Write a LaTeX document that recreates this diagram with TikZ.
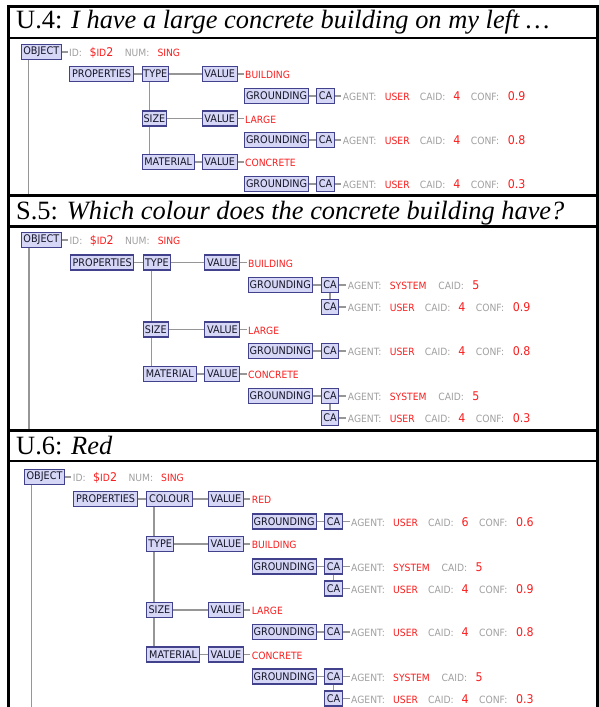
\documentclass[tikz,border=0pt]{standalone}
\usepackage{fontspec}
\newfontfamily\titlefont{Liberation Serif}
\newfontfamily\treefont[FakeStretch=0.92]{DejaVu Sans}

\definecolor{boxfill}{RGB}{214,214,246}
\definecolor{boxline}{RGB}{66,66,140}
\definecolor{boxtext}{RGB}{22,22,40}
\definecolor{wiregray}{RGB}{150,150,150}
\definecolor{labgray}{RGB}{160,160,160}
\definecolor{valred}{RGB}{250,30,30}

% attribute text pieces
\newcommand\lab[1]{\textcolor{labgray}{\fontsize{10}{12}\selectfont #1}}
\newcommand\rw[1]{\textcolor{valred}{\fontsize{10}{12}\selectfont #1}}
\newcommand\rn[1]{\textcolor{valred}{\fontsize{12}{12}\selectfont #1}}
\newcommand\fld[2]{\makebox[#1][l]{#2}}
\newcommand\idline{\fld{20.3pt}{\lab{ID:}}\fld{35.3pt}{\rn{\$}\rw{ID}\rn{2}}\fld{32.7pt}{\lab{NUM:}}\rw{SING}}
\newcommand\userca[2]{\fld{42pt}{\lab{AGENT:}}\fld{35pt}{\rw{USER}}\fld{33.5pt}{\lab{CAID:}}\fld{17.5pt}{\rn{#1}}\fld{37pt}{\lab{CONF:}}\rn{#2}}
\newcommand\sysca[1]{\fld{42pt}{\lab{AGENT:}}\fld{48.5pt}{\rw{SYSTEM}}\fld{34pt}{\lab{CAID:}}\rn{#1}}

\tikzset{
  box/.style={draw=boxline, fill=boxfill, line width=1.1pt, text=boxtext,
    font=\treefont\fontsize{10.5}{11}\selectfont, inner xsep=1pt, inner ysep=0pt,
    minimum height=15pt, anchor=west},
  wire/.style={draw=wiregray, line width=1.2pt},
  info/.style={anchor=base west, inner xsep=1.5pt, inner ysep=0pt, font=\treefont},
  frame/.style={draw=black, line width=2.6pt},
  title/.style={anchor=base west, inner sep=0pt, font=\titlefont\fontsize{26.4}{30}\selectfont}
}

\begin{document}
\begin{tikzpicture}[x=1pt, y=-1pt]
\useasboundingbox (0,0) rectangle (599,707);
\fill[white] (0,0) rectangle (599,707);

% ---------- table frame ----------
\draw[frame] (7,6.2) -- (599,6.2);
\draw[frame] (7,37.8) -- (599,37.8);
\draw[frame] (7,195.5) -- (599,195.5);
\draw[frame] (7,226.5) -- (599,226.5);
\draw[frame] (7,430.3) -- (599,430.3);
\draw[frame] (7,460.8) -- (599,460.8);
\draw[frame] (8.3,4.9) -- (8.3,708);
\draw[frame] (597.7,4.9) -- (597.7,708);

% ---------- titles ----------
\node[title] (tA) at (16,28.3) {U.4: \textit{I have a large concrete building on my left …}};
\node[title] (tB) at (16,219.3) {S.5: \textit{Which colour does the concrete building have?}};
\node[title] (tC) at (16,454) {U.6: \textit{Red}};

% ================= U.4 =================
\node[box, minimum width=40pt] (objA) at (20.7,52) {OBJECT};
\node[info] (idA) at (67.5,56.8) {\idline};
\coordinate (botA) at (28.3,194);
\node[box, minimum width=63.4pt] (propA) at (69.3,74) {PROPERTIES};
\node[box, minimum width=26.6pt] (typeA) at (141.5,74) {TYPE};
\node[box, minimum width=35pt] (vtA) at (201.7,74) {VALUE};
\node[info] (wtA) at (243.5,78.5) {\rw{BUILDING}};
\node[box, minimum width=63.4pt] (gtA) at (244.3,96) {GROUNDING};
\node[box, minimum width=18pt] (ctA) at (316,96) {CA};
\node[info] (atA) at (341.2,100.8) {\userca{4}{0.9}};
\node[box, minimum width=24.7pt] (sizeA) at (141.5,118.5) {SIZE};
\node[box, minimum width=35pt] (vsA) at (201.7,118.5) {VALUE};
\node[info] (wsA) at (243.5,123) {\rw{LARGE}};
\node[box, minimum width=63.4pt] (gsA) at (244.3,140) {GROUNDING};
\node[box, minimum width=18pt] (csA) at (316,140) {CA};
\node[info] (asA) at (341.2,144.8) {\userca{4}{0.8}};
\node[box, minimum width=52.3pt] (matA) at (141.5,162) {MATERIAL};
\node[box, minimum width=35pt] (vmA) at (201.7,162) {VALUE};
\node[info] (wmA) at (243.5,166.5) {\rw{CONCRETE}};
\node[box, minimum width=63.4pt] (gmA) at (244.3,184) {GROUNDING};
\node[box, minimum width=18pt] (cmA) at (316,184) {CA};
\node[info] (amA) at (341.2,188.8) {\userca{4}{0.3}};

\draw[wire] (objA.east) -- (objA.east -| idA.west);
\draw[wire] (objA.south -| botA) -- (botA);
\draw[wire] (propA.east) -- (typeA.west);
\draw[wire] (typeA.east) -- (vtA.west);
\draw[wire] (vtA.east) -- (vtA.east -| wtA.west);
\draw[wire] (gtA.east) -- (ctA.west);
\draw[wire] (ctA.east) -- (ctA.east -| atA.west);
\draw[wire] ([xshift=8pt]typeA.south west) -- ([xshift=8pt]sizeA.north west);
\draw[wire] (sizeA.east) -- (vsA.west);
\draw[wire] (vsA.east) -- (vsA.east -| wsA.west);
\draw[wire] (gsA.east) -- (csA.west);
\draw[wire] (csA.east) -- (csA.east -| asA.west);
\draw[wire] ([xshift=8pt]sizeA.south west) -- ([xshift=8pt]matA.north west);
\draw[wire] (matA.east) -- (vmA.west);
\draw[wire] (vmA.east) -- (vmA.east -| wmA.west);
\draw[wire] (gmA.east) -- (cmA.west);
\draw[wire] (cmA.east) -- (cmA.east -| amA.west);

% ================= S.5 =================
\node[box, minimum width=40.3pt] (objB) at (20.7,240) {OBJECT};
\node[info] (idB) at (67.8,244.8) {\idline};
\coordinate (botB) at (29,429);
\node[box, minimum width=63.3pt] (propB) at (70,262.5) {PROPERTIES};
\node[box, minimum width=27.3pt] (typeB) at (142.7,262.5) {TYPE};
\node[box, minimum width=35pt] (vtB) at (204.3,262.5) {VALUE};
\node[info] (wtB) at (246.5,267) {\rw{BUILDING}};
\node[box, minimum width=64pt] (gtB) at (247.7,285) {GROUNDING};
\node[box, minimum width=17.4pt] (ctsB) at (320.7,285) {CA};
\node[info] (atsB) at (346.2,289.8) {\sysca{5}};
\node[box, minimum width=17.4pt] (ctuB) at (320.7,307) {CA};
\node[info] (atuB) at (346.2,311.8) {\userca{4}{0.9}};
\node[box, minimum width=25pt] (sizeB) at (142.7,329.5) {SIZE};
\node[box, minimum width=35pt] (vsB) at (204.3,329.5) {VALUE};
\node[info] (wsB) at (246.5,334) {\rw{LARGE}};
\node[box, minimum width=64pt] (gsB) at (247.7,351) {GROUNDING};
\node[box, minimum width=17.4pt] (csB) at (320.7,351) {CA};
\node[info] (asB) at (346.2,355.8) {\userca{4}{0.8}};
\node[box, minimum width=53pt] (matB) at (142.7,374) {MATERIAL};
\node[box, minimum width=35pt] (vmB) at (204.3,374) {VALUE};
\node[info] (wmB) at (246.5,378.5) {\rw{CONCRETE}};
\node[box, minimum width=64pt] (gmB) at (247.7,396) {GROUNDING};
\node[box, minimum width=17.4pt] (cmsB) at (320.7,396) {CA};
\node[info] (amsB) at (346.2,400.8) {\sysca{5}};
\node[box, minimum width=17.4pt] (cmuB) at (320.7,418) {CA};
\node[info] (amuB) at (346.2,422.8) {\userca{4}{0.3}};

\draw[wire] (objB.east) -- (objB.east -| idB.west);
\draw[wire] (objB.south -| botB) -- (botB);
\draw[wire] (propB.east) -- (typeB.west);
\draw[wire] (typeB.east) -- (vtB.west);
\draw[wire] (vtB.east) -- (vtB.east -| wtB.west);
\draw[wire] (gtB.east) -- (ctsB.west);
\draw[wire] (ctsB.east) -- (ctsB.east -| atsB.west);
\draw[wire] (ctsB.south) -- (ctuB.north);
\draw[wire] (ctuB.east) -- (ctuB.east -| atuB.west);
\draw[wire] ([xshift=9pt]typeB.south west) -- ([xshift=9pt]sizeB.north west);
\draw[wire] (sizeB.east) -- (vsB.west);
\draw[wire] (vsB.east) -- (vsB.east -| wsB.west);
\draw[wire] (gsB.east) -- (csB.west);
\draw[wire] (csB.east) -- (csB.east -| asB.west);
\draw[wire] ([xshift=9pt]sizeB.south west) -- ([xshift=9pt]matB.north west);
\draw[wire] (matB.east) -- (vmB.west);
\draw[wire] (vmB.east) -- (vmB.east -| wmB.west);
\draw[wire] (gmB.east) -- (cmsB.west);
\draw[wire] (cmsB.east) -- (cmsB.east -| amsB.west);
\draw[wire] (cmsB.south) -- (cmuB.north);
\draw[wire] (cmuB.east) -- (cmuB.east -| amuB.west);

% ================= U.6 =================
\node[box, minimum width=40pt] (objC) at (24,477) {OBJECT};
\node[info] (idC) at (71.2,481.8) {\idline};
\coordinate (botC) at (31.7,708);
\node[box, minimum width=63.4pt] (propC) at (73.3,499) {PROPERTIES};
\node[box, minimum width=45.7pt] (colC) at (146,499) {COLOUR};
\node[box, minimum width=34.7pt] (vcC) at (208,499) {VALUE};
\node[info] (wcC) at (250.2,503.5) {\rw{RED}};
\node[box, minimum width=64.2pt] (gcC) at (251.5,521.5) {GROUNDING};
\node[box, minimum width=17.4pt] (ccC) at (324.3,521.5) {CA};
\node[info] (acC) at (349.5,526.3) {\userca{6}{0.6}};
\node[box, minimum width=27.3pt] (typeC) at (146,544) {TYPE};
\node[box, minimum width=34.7pt] (vtC) at (208,544) {VALUE};
\node[info] (wtC) at (250.2,548.5) {\rw{BUILDING}};
\node[box, minimum width=64.2pt] (gtC) at (251.5,566.5) {GROUNDING};
\node[box, minimum width=17.4pt] (ctsC) at (324.3,566.5) {CA};
\node[info] (atsC) at (349.5,571.3) {\sysca{5}};
\node[box, minimum width=17.4pt] (ctuC) at (324.3,588.5) {CA};
\node[info] (atuC) at (349.5,593.3) {\userca{4}{0.9}};
\node[box, minimum width=25.7pt] (sizeC) at (146,610) {SIZE};
\node[box, minimum width=34.7pt] (vsC) at (208,610) {VALUE};
\node[info] (wsC) at (250.2,614.5) {\rw{LARGE}};
\node[box, minimum width=64.2pt] (gsC) at (251.5,632) {GROUNDING};
\node[box, minimum width=17.4pt] (csC) at (324.3,632) {CA};
\node[info] (asC) at (349.5,636.8) {\userca{4}{0.8}};
\node[box, minimum width=53pt] (matC) at (146,654.5) {MATERIAL};
\node[box, minimum width=34.7pt] (vmC) at (208,654.5) {VALUE};
\node[info] (wmC) at (250.2,659) {\rw{CONCRETE}};
\node[box, minimum width=64.2pt] (gmC) at (251.5,676.5) {GROUNDING};
\node[box, minimum width=17.4pt] (cmsC) at (324.3,676.5) {CA};
\node[info] (amsC) at (349.5,681.3) {\sysca{5}};
\node[box, minimum width=17.4pt] (cmuC) at (324.3,698.5) {CA};
\node[info] (amuC) at (349.5,703.3) {\userca{4}{0.3}};

\draw[wire] (objC.east) -- (objC.east -| idC.west);
\draw[wire] (objC.south -| botC) -- (botC);
\draw[wire] (propC.east) -- (colC.west);
\draw[wire] (colC.east) -- (vcC.west);
\draw[wire] (vcC.east) -- (vcC.east -| wcC.west);
\draw[wire] (gcC.east) -- (ccC.west);
\draw[wire] (ccC.east) -- (ccC.east -| acC.west);
\draw[wire] ([xshift=8pt]colC.south west) -- ([xshift=8pt]typeC.north west);
\draw[wire] (typeC.east) -- (vtC.west);
\draw[wire] (vtC.east) -- (vtC.east -| wtC.west);
\draw[wire] (gtC.east) -- (ctsC.west);
\draw[wire] (ctsC.east) -- (ctsC.east -| atsC.west);
\draw[wire] (ctsC.south) -- (ctuC.north);
\draw[wire] (ctuC.east) -- (ctuC.east -| atuC.west);
\draw[wire] ([xshift=8pt]typeC.south west) -- ([xshift=8pt]sizeC.north west);
\draw[wire] (sizeC.east) -- (vsC.west);
\draw[wire] (vsC.east) -- (vsC.east -| wsC.west);
\draw[wire] (gsC.east) -- (csC.west);
\draw[wire] (csC.east) -- (csC.east -| asC.west);
\draw[wire] ([xshift=8pt]sizeC.south west) -- ([xshift=8pt]matC.north west);
\draw[wire] (matC.east) -- (vmC.west);
\draw[wire] (vmC.east) -- (vmC.east -| wmC.west);
\draw[wire] (gmC.east) -- (cmsC.west);
\draw[wire] (cmsC.east) -- (cmsC.east -| amsC.west);
\draw[wire] (cmsC.south) -- (cmuC.north);
\draw[wire] (cmuC.east) -- (cmuC.east -| amuC.west);
\end{tikzpicture}
\end{document}
